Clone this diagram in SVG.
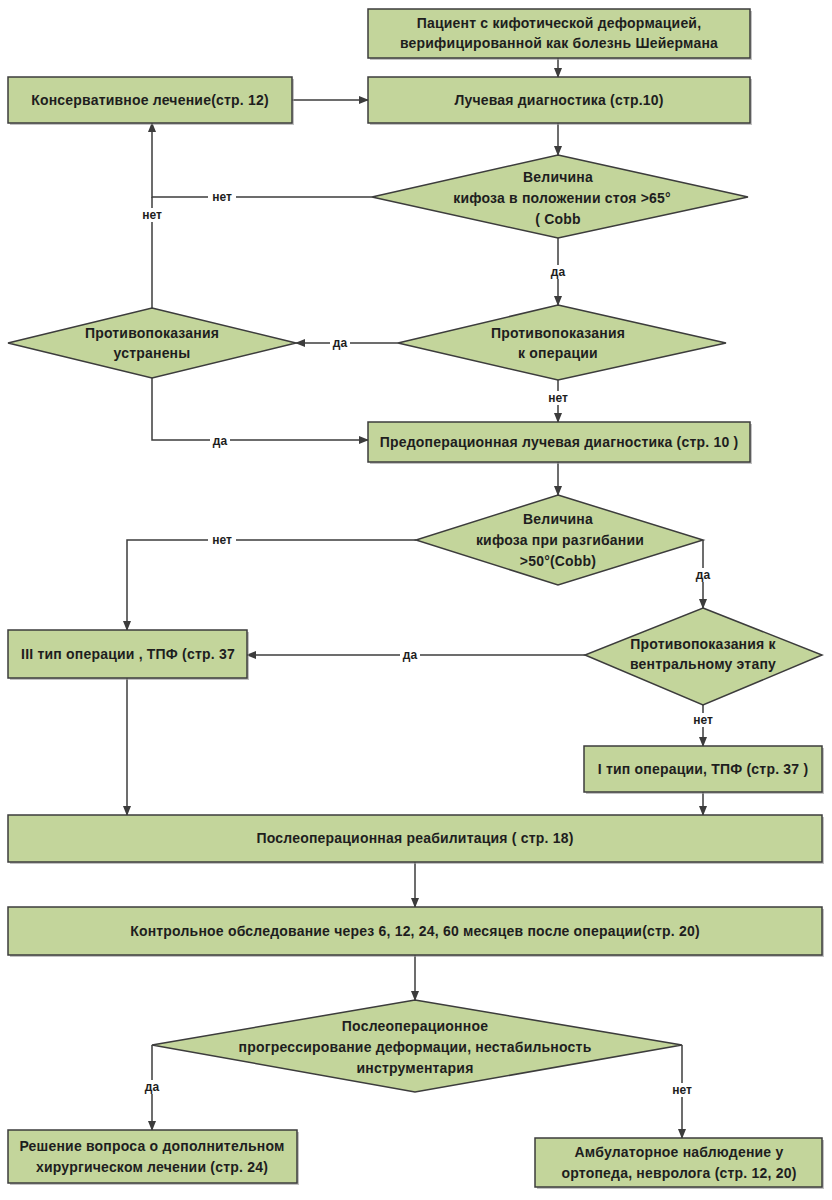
<svg xmlns="http://www.w3.org/2000/svg" width="832" height="1200" viewBox="0 0 832 1200">
<style>
.n{fill:#c3d59b;stroke:#3c3c3c;stroke-width:1.5}
.sh{fill:#9a9a9a;opacity:0.6}
.t{font-family:"Liberation Sans",Arial,sans-serif;font-size:14px;font-weight:bold;letter-spacing:0.2px;fill:#1e1e1e;text-anchor:middle;dominant-baseline:central}
.l{font-family:"Liberation Sans",Arial,sans-serif;font-size:12px;font-weight:bold;fill:#1e1e1e;text-anchor:middle;dominant-baseline:central}
.c{fill:none;stroke:#3c3c3c;stroke-width:1.5}
.lb{fill:#ffffff}
</style>
<defs>
<marker id="a" markerWidth="10" markerHeight="10" refX="9" refY="5" orient="auto" markerUnits="userSpaceOnUse">
<path d="M0,1 L10,5 L0,9 Z" fill="#3c3c3c"/>
</marker>
</defs>
<rect width="832" height="1200" fill="#ffffff"/>

<g id="connectors">
<path class="c" d="M558,58 V77" marker-end="url(#a)"/>
<path class="c" d="M292,100 H368" marker-end="url(#a)"/>
<path class="c" d="M558,123 V155" marker-end="url(#a)"/>
<path class="c" d="M372,197 H152 V123" marker-end="url(#a)"/>
<path class="c" d="M152,308 V197"/>
<path class="c" d="M558,238 V305" marker-end="url(#a)"/>
<path class="c" d="M398,343 H296" marker-end="url(#a)"/>
<path class="c" d="M558,380 V422" marker-end="url(#a)"/>
<path class="c" d="M152,378 V440 H368" marker-end="url(#a)"/>
<path class="c" d="M558,462 V495" marker-end="url(#a)"/>
<path class="c" d="M416,540 H127 V630" marker-end="url(#a)"/>
<path class="c" d="M703,540 V608" marker-end="url(#a)"/>
<path class="c" d="M585,655 H247" marker-end="url(#a)"/>
<path class="c" d="M703,705 V746" marker-end="url(#a)"/>
<path class="c" d="M127,678 V815" marker-end="url(#a)"/>
<path class="c" d="M703,792 V815" marker-end="url(#a)"/>
<path class="c" d="M415,862 V907" marker-end="url(#a)"/>
<path class="c" d="M415,955 V1000" marker-end="url(#a)"/>
<path class="c" d="M152,1045 V1130" marker-end="url(#a)"/>
<path class="c" d="M682,1045 V1138" marker-end="url(#a)"/>
<rect class="lb" x="208" y="190" width="28" height="14"/><text class="l" x="222" y="197">нет</text>
<rect class="lb" x="138" y="208" width="28" height="14"/><text class="l" x="152" y="215">нет</text>
<rect class="lb" x="548" y="265" width="20" height="14"/><text class="l" x="558" y="272">да</text>
<rect class="lb" x="330" y="336" width="20" height="14"/><text class="l" x="340" y="343">да</text>
<rect class="lb" x="544" y="391" width="28" height="14"/><text class="l" x="558" y="398">нет</text>
<rect class="lb" x="210" y="433" width="20" height="14"/><text class="l" x="220" y="441">да</text>
<rect class="lb" x="208" y="533" width="28" height="14"/><text class="l" x="222" y="540">нет</text>
<rect class="lb" x="693" y="568" width="20" height="14"/><text class="l" x="703" y="575">да</text>
<rect class="lb" x="400" y="648" width="20" height="14"/><text class="l" x="410" y="655">да</text>
<rect class="lb" x="689" y="713" width="28" height="14"/><text class="l" x="703" y="720">нет</text>
<rect class="lb" x="142" y="1080" width="20" height="14"/><text class="l" x="152" y="1087">да</text>
<rect class="lb" x="668" y="1083" width="28" height="14"/><text class="l" x="682" y="1090">нет</text>
</g>

<g id="n1">
<rect class="sh" x="370" y="11" width="382" height="49"/>
<rect class="n" x="368" y="9" width="382" height="49"/>
<text class="t" x="559" y="23">Пациент с кифотической деформацией,</text>
<text class="t" x="559" y="43">верифицированной как болезнь Шейермана</text>
</g>
<g id="n2">
<rect class="sh" x="10" y="79" width="284" height="46"/>
<rect class="n" x="8" y="77" width="284" height="46"/>
<text class="t" x="150" y="100">Консервативное лечение(стр. 12)</text>
</g>
<g id="n3">
<rect class="sh" x="370" y="79" width="382" height="46"/>
<rect class="n" x="368" y="77" width="382" height="46"/>
<text class="t" x="559" y="100">Лучевая диагностика (стр.10)</text>
</g>
<g id="d1">
<polygon class="n" points="558,155 748,197 558,238 372,197"/>
<text class="t" x="558" y="177">Величина</text>
<text class="t" x="562" y="198">кифоза  в положении стоя &gt;65°</text>
<text class="t" x="558" y="219">( Cobb</text>
</g>
<g id="d2">
<polygon class="n" points="558,305 726,343 558,380 398,343"/>
<text class="t" x="558" y="333">Противопоказания</text>
<text class="t" x="558" y="353">к операции</text>
</g>
<g id="d3">
<polygon class="n" points="152,308 296,343 152,378 8,343"/>
<text class="t" x="152" y="333">Противопоказания</text>
<text class="t" x="152" y="353">устранены</text>
</g>
<g id="n4">
<rect class="sh" x="370" y="424" width="382" height="40"/>
<rect class="n" x="368" y="422" width="382" height="40"/>
<text class="t" x="559" y="442">Предоперационная лучевая диагностика (стр. 10 )</text>
</g>
<g id="d4">
<polygon class="n" points="558,495 703,540 558,585 416,540"/>
<text class="t" x="558" y="519">Величина</text>
<text class="t" x="560" y="540">кифоза при разгибании</text>
<text class="t" x="558" y="561">&gt;50°(Cobb)</text>
</g>
<g id="d5">
<polygon class="n" points="703,608 822,655 703,705 585,655"/>
<text class="t" x="703" y="644">Противопоказания к</text>
<text class="t" x="703" y="664">вентральному этапу</text>
</g>
<g id="n5">
<rect class="sh" x="10" y="632" width="239" height="48"/>
<rect class="n" x="8" y="630" width="239" height="48"/>
<text class="t" x="128" y="654">III тип операции , ТПФ (стр. 37</text>
</g>
<g id="n6">
<rect class="sh" x="586" y="748" width="238" height="46"/>
<rect class="n" x="584" y="746" width="238" height="46"/>
<text class="t" x="703" y="769">I тип операции, ТПФ (стр. 37 )</text>
</g>
<g id="n7">
<rect class="sh" x="10" y="817" width="814" height="47"/>
<rect class="n" x="8" y="815" width="814" height="47"/>
<text class="t" x="415" y="838">Послеоперационная реабилитация ( стр. 18)</text>
</g>
<g id="n8">
<rect class="sh" x="10" y="909" width="814" height="48"/>
<rect class="n" x="8" y="907" width="814" height="48"/>
<text class="t" x="415" y="931">Контрольное обследование через 6, 12, 24, 60 месяцев после операции(стр. 20)</text>
</g>
<g id="d6">
<polygon class="n" points="415,1000 682,1045 415,1092 152,1045"/>
<text class="t" x="415" y="1026">Послеоперационное</text>
<text class="t" x="415" y="1047">прогрессирование деформации, нестабильность</text>
<text class="t" x="415" y="1068">инструментария</text>
</g>
<g id="n9">
<rect class="sh" x="10" y="1132" width="289" height="53"/>
<rect class="n" x="8" y="1130" width="289" height="53"/>
<text class="t" x="152" y="1146">Решение вопроса о дополнительном</text>
<text class="t" x="152" y="1167">хирургическом лечении (стр. 24)</text>
</g>
<g id="n10">
<rect class="sh" x="537" y="1140" width="287" height="49"/>
<rect class="n" x="535" y="1138" width="287" height="49"/>
<text class="t" x="679" y="1152">Амбулаторное наблюдение у</text>
<text class="t" x="679" y="1173">ортопеда, невролога (стр. 12, 20)</text>
</g>
</svg>
